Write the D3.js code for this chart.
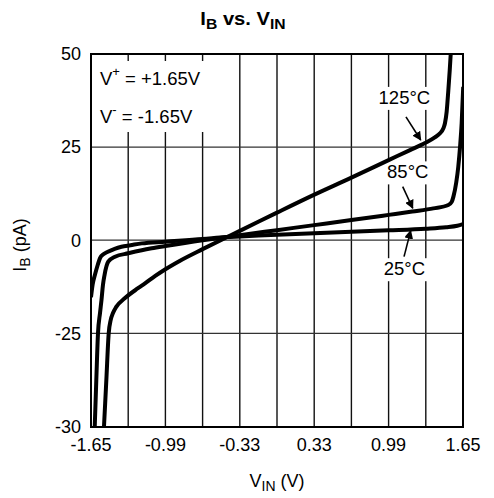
<!DOCTYPE html>
<html>
<head>
<meta charset="utf-8">
<script src="https://cdn.jsdelivr.net/npm/d3@7"></script>
<style>
  html, body { margin: 0; padding: 0; background: #fff; }
  svg { display: block; font-family: "Liberation Sans", Arial, sans-serif; }
</style>
</head>
<body>
<svg id="chart" width="494" height="498"></svg>
<script>
// ---- data ----
const xGridValues = [-1.65, -1.32, -0.99, -0.66, -0.33, 0, 0.33, 0.66, 0.99, 1.32, 1.65];
const xTickLabels = [-1.65, -0.99, -0.33, 0.33, 0.99, 1.65];
const yTickValues = [-30, -25, 0, 25, 50];

const curve25 = [
  [-1.65, -15.3], [-1.635, -11.8], [-1.615, -9.3], [-1.59, -6.6], [-1.57, -4.8],
  [-1.54, -3.8], [-1.5, -3.1], [-1.44, -2.3], [-1.38, -1.75], [-1.3, -1.35],
  [-1.2, -0.85], [-0.99, -0.4], [-0.66, 0.3], [-0.45, 0.85], [-0.33, 1.0],
  [0, 1.45], [0.33, 1.85], [0.66, 2.25], [0.99, 2.65], [1.32, 3.1],
  [1.5, 3.5], [1.6, 3.9], [1.65, 4.3]
];
const curve85 = [
  [-1.617, -30], [-1.603, -27.5], [-1.588, -25], [-1.57, -19.55], [-1.557, -16.06],
  [-1.544, -12.0], [-1.53, -9.35], [-1.497, -5.78], [-1.437, -4.43],
  [-1.319, -3.52], [-1.2, -2.7], [-1.112, -2.18],
  [-0.99, -1.55], [-0.66, 0.0], [-0.446, 0.86], [-0.33, 1.35], [0, 2.7],
  [0.33, 4.05], [0.66, 5.4], [0.99, 6.8], [1.2, 7.7], [1.387, 8.55],
  [1.52, 9.45], [1.55, 10.3], [1.565, 11.7], [1.59, 15.5], [1.608, 19.7],
  [1.625, 25.5], [1.638, 31.4], [1.652, 41.2]
];
const curve125 = [
  [-1.535, -30], [-1.514, -27.5], [-1.493, -25], [-1.475, -21.4], [-1.455, -19.55],
  [-1.426, -17.9], [-1.351, -15.6], [-1.233, -12.9], [-1.171, -11.6],
  [-1.08, -9.6], [-0.99, -7.8], [-0.86, -5.5], [-0.66, -2.4], [-0.446, 0.8], [-0.33, 2.5],
  [0, 7.4], [0.322, 12.1], [0.66, 16.8], [0.99, 21.5], [1.18, 24.2],
  [1.313, 26.1], [1.4, 27.6], [1.446, 28.7], [1.475, 30.0], [1.49, 31.4],
  [1.505, 34.5], [1.52, 40.3], [1.532, 45.5], [1.541, 50]
];

const curveLabels = [
  { text: "125°C", x: 1.13, y: 36.6, ax0: 1.144, ay0: 33.1, ax1: 1.275, ay1: 26.9 },
  { text: "85°C",  x: 1.16, y: 16.6, ax0: 1.115, ay0: 14.4, ax1: 1.204, ay1: 8.57 },
  { text: "25°C",  x: 1.13, y: -9.4, ax0: 1.127, ay0: -4.4, ax1: 1.186, ay1: 2.56 }
];

// ---- layout ----
const svg = d3.select("#chart");
const pL = 91, pR = 463, pT = 54, pB = 427;
const yM25 = 333.3;
const FS = 18;

const x = d3.scaleLinear().domain([-1.65, 1.65]).range([pL, pR]);
const y = d3.scaleLinear().domain([-30, -25, 50]).range([pB, yM25, pT]);

// gridlines
const grid = svg.append("g");
grid.selectAll("line.v").data(xGridValues).join("line")
  .attr("x1", d => x(d)).attr("x2", d => x(d))
  .attr("y1", pT).attr("y2", pB)
  .attr("stroke", "#111").attr("stroke-width", 1.4);
grid.selectAll("line.h").data(yTickValues).join("line")
  .attr("x1", pL).attr("x2", pR)
  .attr("y1", d => y(d)).attr("y2", d => y(d))
  .attr("stroke", "#333").attr("stroke-width", 1.3);

// annotation box (supply voltages)
const note = svg.append("g");
const noteBg = note.append("rect").attr("fill", "#fff");
const t1 = note.append("text").attr("x", 100).attr("y", 85).attr("font-size", 18.5);
t1.append("tspan").text("V");
t1.append("tspan").attr("dy", -9).attr("font-size", 13).text("+");
t1.append("tspan").attr("dy", 9).text(" = +1.65V");
const t2 = note.append("text").attr("x", 100).attr("y", 123).attr("font-size", 18.5);
t2.append("tspan").text("V");
t2.append("tspan").attr("dy", -9).attr("font-size", 13).text("-");
t2.append("tspan").attr("dy", 9).text(" = -1.65V");
const nb = note.node().getBBox();
noteBg.attr("x", pL + 1.5).attr("y", nb.y - 3).attr("width", nb.x + nb.width + 8 - pL)
  .attr("height", nb.height + 8);

// curve label backgrounds + text
const labG = svg.append("g");
curveLabels.forEach(l => {
  const bg = labG.append("rect").attr("fill", "#fff");
  const t = labG.append("text").attr("x", x(l.x)).attr("y", y(l.y))
    .attr("text-anchor", "middle").attr("font-size", 18.5).text(l.text);
  const b = t.node().getBBox();
  bg.attr("x", b.x - 2).attr("y", b.y).attr("width", b.width + 4).attr("height", b.height + 2);
});

// frame
svg.append("rect").attr("x", pL).attr("y", pT).attr("width", pR - pL)
  .attr("height", pB - pT).attr("fill", "none").attr("stroke", "#000").attr("stroke-width", 2);

// curves
svg.append("clipPath").attr("id", "clip").append("rect")
  .attr("x", pL).attr("y", pT - 1).attr("width", pR - pL + 1).attr("height", pB - pT + 2);
const lineGen = d3.line().x(d => x(d[0])).y(d => y(d[1])).curve(d3.curveMonotoneX);
const curves = svg.append("g").attr("clip-path", "url(#clip)");
[curve25, curve85, curve125].forEach(c => {
  curves.append("path").attr("d", lineGen(c)).attr("fill", "none")
    .attr("stroke", "#000").attr("stroke-width", 4).attr("stroke-linejoin", "round");
});

// arrows
svg.append("defs").append("marker").attr("id", "arr")
  .attr("viewBox", "0 0 10 10").attr("refX", 9).attr("refY", 5)
  .attr("markerWidth", 9).attr("markerHeight", 9).attr("markerUnits", "userSpaceOnUse")
  .attr("orient", "auto")
  .append("path").attr("d", "M0,0 L10,5 L0,10 Z").attr("fill", "#000");
curveLabels.forEach(l => {
  svg.append("line").attr("x1", x(l.ax0)).attr("y1", y(l.ay0))
    .attr("x2", x(l.ax1)).attr("y2", y(l.ay1))
    .attr("stroke", "#000").attr("stroke-width", 1.6).attr("marker-end", "url(#arr)");
});

// tick labels
svg.append("g").selectAll("text").data(yTickValues).join("text")
  .attr("x", 81).attr("y", d => y(d)).attr("dy", "0.35em")
  .attr("text-anchor", "end").attr("font-size", FS).text(d => String(d));
svg.append("g").selectAll("text").data(xTickLabels).join("text")
  .attr("x", d => x(d)).attr("y", 451)
  .attr("text-anchor", "middle").attr("font-size", FS).text(d => d.toFixed(2));

// axis titles
const xt = svg.append("text").attr("x", 277).attr("y", 487).attr("text-anchor", "middle").attr("font-size", FS);
xt.append("tspan").text("V");
xt.append("tspan").attr("dy", 4).attr("font-size", 14).text("IN");
xt.append("tspan").attr("dy", -4).text(" (V)");

const yt = svg.append("text").attr("transform", "translate(26,245) rotate(-90)")
  .attr("text-anchor", "middle").attr("font-size", FS);
yt.append("tspan").text("I");
yt.append("tspan").attr("dy", 4).attr("font-size", 14).text("B");
yt.append("tspan").attr("dy", -4).text(" (pA)");

// title
const tt = svg.append("g").attr("transform", "translate(243,25) scale(1.12,1)")
  .append("text").attr("x", 0).attr("y", 0).attr("text-anchor", "middle")
  .attr("font-size", 18).attr("font-weight", "bold");
tt.append("tspan").text("I");
tt.append("tspan").attr("dy", 4).attr("font-size", 14).text("B");
tt.append("tspan").attr("dy", -4).text(" vs. V");
tt.append("tspan").attr("dy", 4).attr("font-size", 14).text("IN");
</script>
</body>
</html>
